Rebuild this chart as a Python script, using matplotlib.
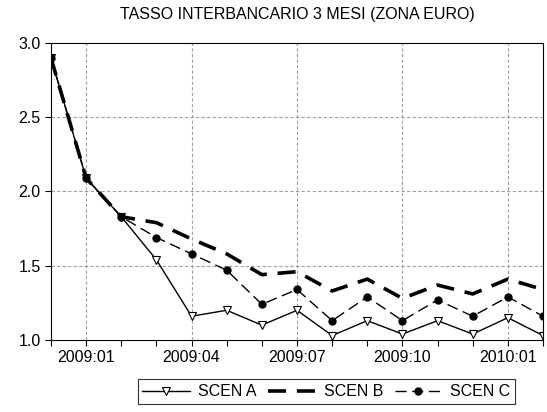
import matplotlib.pyplot as plt
import numpy as np

plt.rcParams['font.family'] = ['Liberation Sans', 'DejaVu Sans']

# monthly data 2008:12 .. 2010:02
months = ['2008:12', '2009:01', '2009:02', '2009:03', '2009:04', '2009:05',
          '2009:06', '2009:07', '2009:08', '2009:09', '2009:10', '2009:11',
          '2009:12', '2010:01', '2010:02']
scen_a = [2.90, 2.09, 1.83, 1.54, 1.16, 1.20, 1.10, 1.20, 1.03, 1.13, 1.04, 1.13, 1.04, 1.15, 1.03]
scen_b = [2.90, 2.09, 1.83, 1.79, 1.68, 1.58, 1.44, 1.46, 1.33, 1.41, 1.28, 1.37, 1.31, 1.41, 1.34]
scen_c = [2.90, 2.09, 1.83, 1.69, 1.58, 1.47, 1.24, 1.34, 1.13, 1.29, 1.13, 1.27, 1.16, 1.29, 1.16]

labeled = ['2009:01', '2009:04', '2009:07', '2009:10', '2010:01']

x = np.arange(len(months))

fig = plt.figure(figsize=(5.47, 4.12), dpi=100)
ax = fig.add_axes([0.0932, 0.1748, 0.8995, 0.7208])

ax.plot(x, scen_a, '-', color='black', lw=1.0, marker='v', ms=6,
        mfc='white', mec='black', mew=0.8, label='SCEN A')
ax.plot(x, scen_b, color='black', lw=2.6, dashes=(5, 3), label='SCEN B')
ax.plot(x, scen_c, color='black', lw=1.0, dashes=(8, 4), marker='o', ms=5,
        mfc='black', mec='black', label='SCEN C')

ax.set_xlim(0, len(months) - 1)
ax.set_ylim(1.0, 3.0)
ax.set_yticks([1.0, 1.5, 2.0, 2.5, 3.0])
ax.set_xticks(x)
ax.set_xticklabels([m if m in labeled else '' for m in months])
ax.tick_params(axis='both', direction='out', length=4, width=0.8, labelsize=11.5)

# grid only on labelled months and inner y values
for i, m in enumerate(months):
    if m in labeled:
        ax.axvline(i, color='#a0a0a0', lw=0.8, ls=(0, (3, 2)), zorder=0)
for yv in [1.5, 2.0, 2.5]:
    ax.axhline(yv, color='#a0a0a0', lw=0.8, ls=(0, (3, 2)), zorder=0)

ax.set_title('TASSO INTERBANCARIO 3 MESI (ZONA EURO)', fontsize=11.5, pad=17)

leg = fig.legend(loc='lower center', bbox_to_anchor=(0.597, 0.0), ncol=3,
                 fontsize=11.5, frameon=True, fancybox=False, edgecolor='black',
                 handlelength=3.0, columnspacing=0.7, handletextpad=0.5,
                 borderpad=0.3)
leg.get_frame().set_linewidth(0.8)

fig.savefig('out.png', dpi=100)
